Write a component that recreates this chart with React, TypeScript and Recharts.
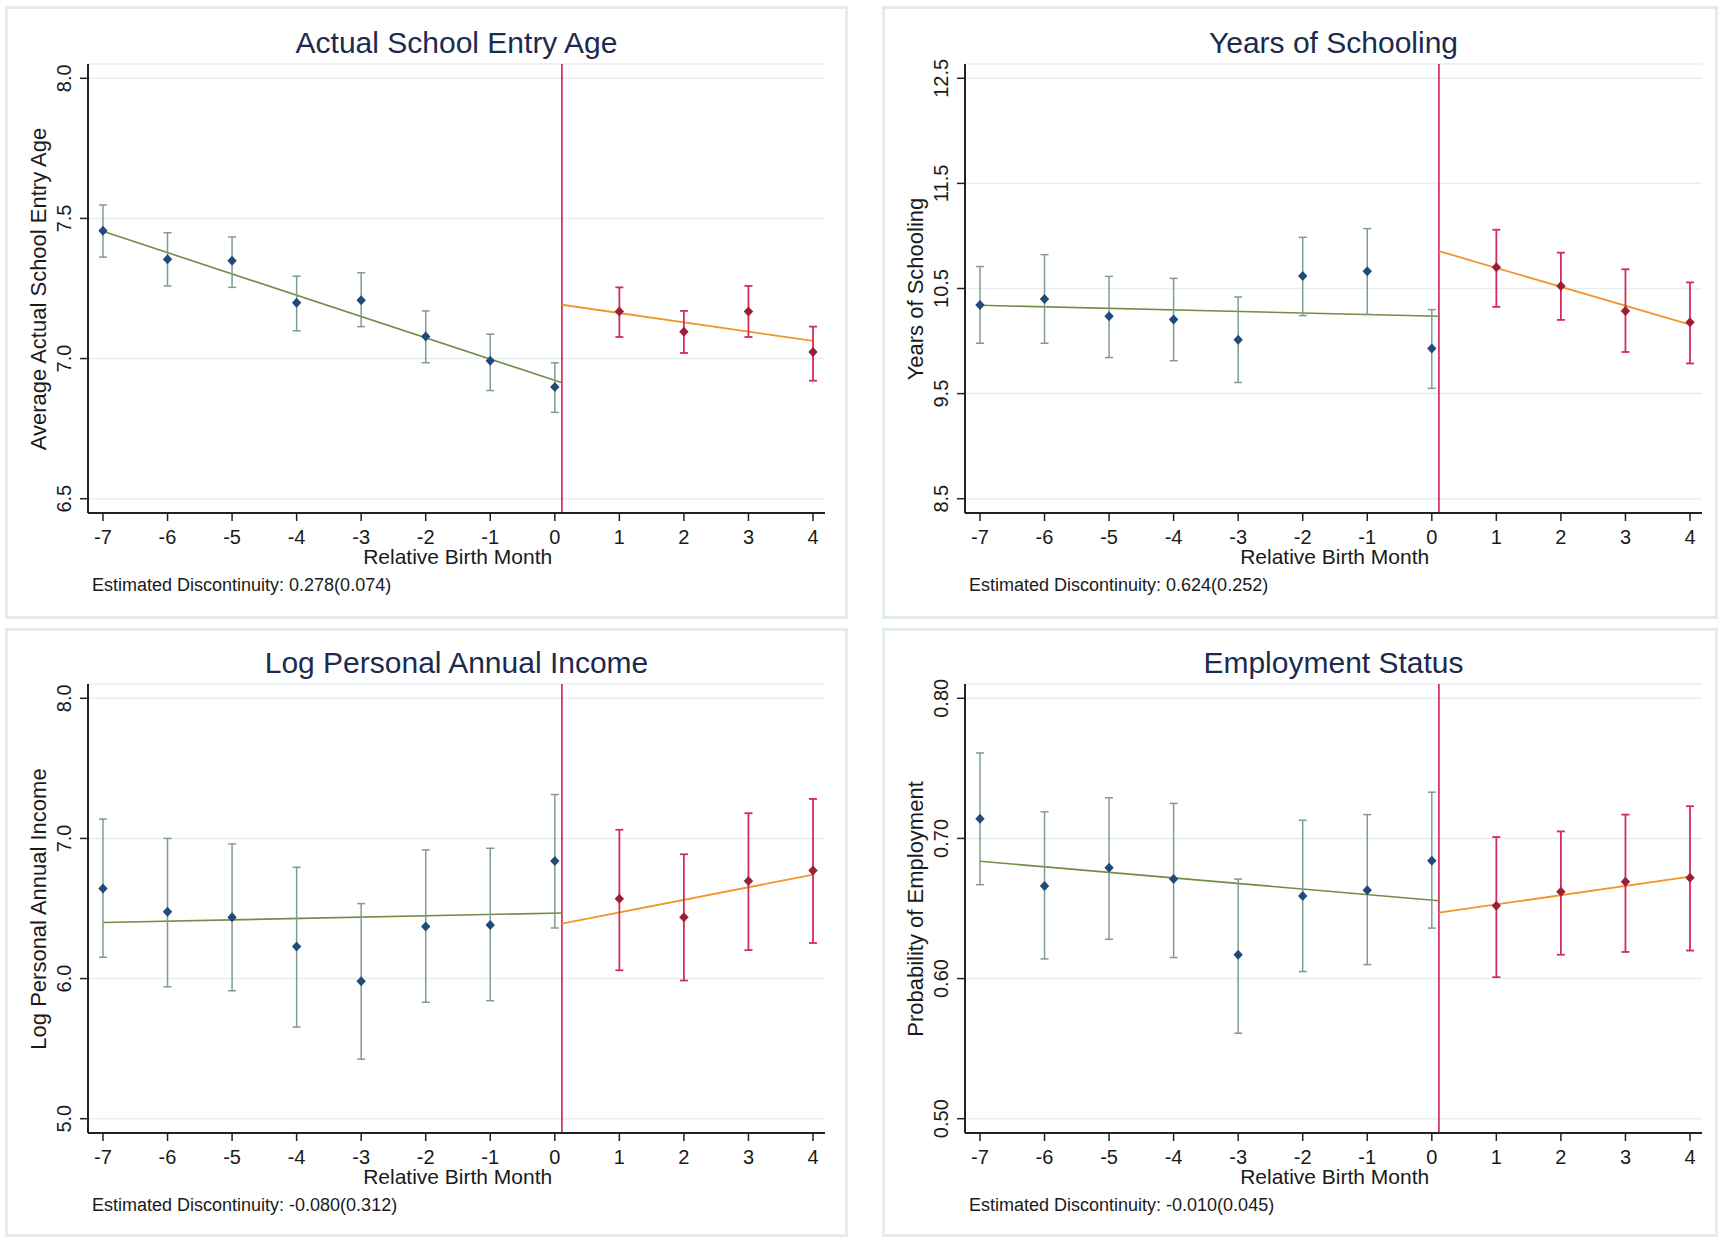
import React from "react";
import {
  CartesianGrid,
  ComposedChart,
  ErrorBar,
  Line,
  ReferenceLine,
  Scatter,
  XAxis,
  YAxis
} from "recharts";

const months = [-7, -6, -5, -4, -3, -2, -1, 0, 1, 2, 3, 4];
const cutoff = 0.11;

// Actual School Entry Age
const entryAgeMean = [7.456, 7.354, 7.349, 7.199, 7.208, 7.079, 6.992, 6.899, 7.168, 7.096, 7.168, 7.023];
const entryAgeLow = [7.362, 7.259, 7.254, 7.099, 7.114, 6.985, 6.886, 6.808, 7.077, 7.02, 7.077, 6.921];
const entryAgeHigh = [7.548, 7.449, 7.434, 7.294, 7.306, 7.17, 7.087, 6.985, 7.254, 7.17, 7.259, 7.114];
const entryAgeFitLeft = [7.454, 6.914];
const entryAgeFitRight = [7.192, 7.063];
const entryAgeTicks = [6.5, 7.0, 7.5, 8.0];
const entryAgeTickLabels = ["6.5", "7.0", "7.5", "8.0"];

// Years of Schooling
const schoolingMean = [10.344, 10.4, 10.235, 10.205, 10.013, 10.619, 10.664, 9.93, 10.701, 10.524, 10.287, 10.178];
const schoolingLow = [9.979, 9.979, 9.843, 9.813, 9.606, 10.242, 10.254, 9.55, 10.325, 10.201, 9.896, 9.787];
const schoolingHigh = [10.709, 10.822, 10.615, 10.596, 10.419, 10.987, 11.07, 10.299, 11.059, 10.841, 10.683, 10.558];
const schoolingFitLeft = [10.34, 10.236];
const schoolingFitRight = [10.856, 10.156];
const schoolingTicks = [8.5, 9.5, 10.5, 11.5, 12.5];
const schoolingTickLabels = ["8.5", "9.5", "10.5", "11.5", "12.5"];

// Log Personal Annual Income
const incomeMean = [6.642, 6.476, 6.437, 6.228, 5.98, 6.372, 6.383, 6.839, 6.569, 6.437, 6.696, 6.772];
const incomeLow = [6.152, 5.941, 5.913, 5.654, 5.425, 5.831, 5.842, 6.361, 6.059, 5.986, 6.203, 6.254];
const incomeHigh = [7.138, 7.0, 6.961, 6.794, 6.535, 6.918, 6.93, 7.313, 7.062, 6.887, 7.18, 7.282];
const incomeFitLeft = [6.4, 6.468];
const incomeFitRight = [6.392, 6.741];
const incomeTicks = [5.0, 6.0, 7.0, 8.0];
const incomeTickLabels = ["5.0", "6.0", "7.0", "8.0"];

// Employment Status
const employMean = [0.714, 0.666, 0.679, 0.671, 0.617, 0.659, 0.663, 0.684, 0.652, 0.662, 0.669, 0.672];
const employLow = [0.667, 0.614, 0.628, 0.615, 0.561, 0.605, 0.61, 0.636, 0.601, 0.617, 0.619, 0.62];
const employHigh = [0.761, 0.719, 0.729, 0.725, 0.671, 0.713, 0.717, 0.733, 0.701, 0.705, 0.717, 0.723];
const employFitLeft = [0.6837, 0.6555];
const employFitRight = [0.647, 0.6727];
const employTicks = [0.5, 0.6, 0.7, 0.8];
const employTickLabels = ["0.50", "0.60", "0.70", "0.80"];

const FONT = '"Liberation Sans", Arial, sans-serif';
const C = {
  leftDot: "#1f4b7a",
  leftCI: "#7f9c8f",
  leftFit: "#6f8f45",
  rightDot: "#9c1f3a",
  rightCI: "#d42c5a",
  rightFit: "#f0962a",
  cut: "#d2204f",
  grid: "#e6eef0",
  border: "#e4ecf0",
  title: "#1c2a4f",
  text: "#1a1a1a"
};

interface PanelCfg {
  title: string;
  yLabel: string;
  note: string;
  mean: number[];
  low: number[];
  high: number[];
  fitLeft: number[];
  fitRight: number[];
  ticks: number[];
  tickLabels: string[];
  left: number;
  top: number;
  width: number;
  boxHeight: number;
}

const panels: PanelCfg[] = [
  {
    title: "Actual School Entry Age",
    yLabel: "Average Actual School Entry Age",
    note: "Estimated Discontinuity: 0.278(0.074)",
    mean: entryAgeMean, low: entryAgeLow, high: entryAgeHigh,
    fitLeft: entryAgeFitLeft, fitRight: entryAgeFitRight,
    ticks: entryAgeTicks, tickLabels: entryAgeTickLabels,
    left: 0, top: 0, width: 843, boxHeight: 613
  },
  {
    title: "Years of Schooling",
    yLabel: "Years of Schooling",
    note: "Estimated Discontinuity: 0.624(0.252)",
    mean: schoolingMean, low: schoolingLow, high: schoolingHigh,
    fitLeft: schoolingFitLeft, fitRight: schoolingFitRight,
    ticks: schoolingTicks, tickLabels: schoolingTickLabels,
    left: 877, top: 0, width: 836, boxHeight: 613
  },
  {
    title: "Log Personal Annual Income",
    yLabel: "Log Personal Annual Income",
    note: "Estimated Discontinuity: -0.080(0.312)",
    mean: incomeMean, low: incomeLow, high: incomeHigh,
    fitLeft: incomeFitLeft, fitRight: incomeFitRight,
    ticks: incomeTicks, tickLabels: incomeTickLabels,
    left: 0, top: 620, width: 843, boxHeight: 609
  },
  {
    title: "Employment Status",
    yLabel: "Probability of Employment",
    note: "Estimated Discontinuity: -0.010(0.045)",
    mean: employMean, low: employLow, high: employHigh,
    fitLeft: employFitLeft, fitRight: employFitRight,
    ticks: employTicks, tickLabels: employTickLabels,
    left: 877, top: 620, width: 836, boxHeight: 609
  }
];

const diamond = (color: string) => (props: any) => {
  const { cx, cy } = props;
  if (cx == null || cy == null) return <g />;
  return (
    <path
      d={`M${cx},${cy - 5}L${cx + 4.7},${cy}L${cx},${cy + 5}L${cx - 4.7},${cy}Z`}
      fill={color}
    />
  );
};

const Panel = ({ cfg }: { cfg: PanelCfg }) => {
  const { left: ox, top: oy } = cfg;
  // Stata-like padding around the outer ticks
  const span = cfg.ticks[cfg.ticks.length - 1] - cfg.ticks[0];
  const m = span * 0.034;
  const domain: [number, number] = [cfg.ticks[0] - m, cfg.ticks[cfg.ticks.length - 1] + m];

  const pts = months.map((x, i) => ({
    x,
    y: cfg.mean[i],
    err: [cfg.mean[i] - cfg.low[i], cfg.high[i] - cfg.mean[i]]
  }));
  const leftPts = pts.filter((p) => p.x <= 0);
  const rightPts = pts.filter((p) => p.x > 0);
  const fitL = [
    { x: months[0], y: cfg.fitLeft[0] },
    { x: cutoff, y: cfg.fitLeft[1] }
  ];
  const fitR = [
    { x: cutoff, y: cfg.fitRight[0] },
    { x: months[months.length - 1], y: cfg.fitRight[1] }
  ];
  const labelOf = (v: number) => {
    const i = cfg.ticks.findIndex((t) => Math.abs(t - v) < 1e-9);
    return i >= 0 ? cfg.tickLabels[i] : String(v);
  };

  const YTick = (props: any) => {
    const { x, y, payload } = props;
    const bx = x - 7;
    return (
      <text
        x={bx}
        y={y}
        transform={`rotate(-90 ${bx} ${y})`}
        textAnchor="middle"
        fontSize={20}
        fontFamily={FONT}
        fill={C.text}
      >
        {labelOf(payload.value)}
      </text>
    );
  };

  return (
    <>
      <div
        style={{
          position: "absolute",
          left: ox + 5,
          top: oy + (oy === 0 ? 6 : 8),
          width: cfg.width,
          height: cfg.boxHeight,
          border: `3px solid ${C.border}`,
          boxSizing: "border-box"
        }}
      />
      <div style={{ position: "absolute", left: ox + 5, top: oy + 6 }}>
        <ComposedChart
          width={cfg.width}
          height={613}
          margin={{ top: 58, right: cfg.width - 820, bottom: 76, left: 0 }}
        >
          <CartesianGrid vertical={false} stroke={C.grid} strokeWidth={1.5} />
          <XAxis
            type="number"
            dataKey="x"
            domain={[-7.232, 4.186]}
            ticks={months}
            allowDataOverflow
            height={30}
            tickSize={8}
            tickMargin={9}
            axisLine={{ stroke: "#222", strokeWidth: 2 }}
            tickLine={{ stroke: "#222", strokeWidth: 1.5 }}
            tick={{ fontSize: 20, fill: C.text, fontFamily: FONT }}
            interval={0}
          />
          <YAxis
            type="number"
            domain={domain}
            ticks={cfg.ticks}
            allowDataOverflow
            width={83}
            tickSize={8}
            axisLine={{ stroke: "#222", strokeWidth: 2 }}
            tickLine={{ stroke: "#222", strokeWidth: 1.5 }}
            tick={<YTick />}
            interval={0}
          />
          <ReferenceLine x={cutoff} stroke={C.cut} strokeWidth={1.6} />
          <Line
            data={fitL}
            dataKey="y"
            type="linear"
            stroke={C.leftFit}
            strokeWidth={1.6}
            dot={false}
            activeDot={false}
            isAnimationActive={false}
          />
          <Line
            data={fitR}
            dataKey="y"
            type="linear"
            stroke={C.rightFit}
            strokeWidth={1.8}
            dot={false}
            activeDot={false}
            isAnimationActive={false}
          />
          <Scatter
            data={leftPts}
            dataKey="y"
            shape={diamond(C.leftDot)}
            isAnimationActive={false}
          >
            <ErrorBar dataKey="err" direction="y" width={4} stroke={C.leftCI} strokeWidth={1.5} />
          </Scatter>
          <Scatter
            data={rightPts}
            dataKey="y"
            shape={diamond(C.rightDot)}
            isAnimationActive={false}
          >
            <ErrorBar dataKey="err" direction="y" width={4} stroke={C.rightCI} strokeWidth={1.8} />
          </Scatter>
        </ComposedChart>
      </div>
      <div
        style={{
          position: "absolute",
          left: ox + 456.5,
          top: oy + 53.3 - 0.846 * 30,
          transform: "translateX(-50%)",
          fontSize: 30,
          lineHeight: 1,
          whiteSpace: "nowrap",
          color: C.title,
          fontFamily: FONT
        }}
      >
        {cfg.title}
      </div>
      <div
        style={{
          position: "absolute",
          left: ox + 39,
          top: oy + 289,
          transform: "translate(-50%, -50%) rotate(-90deg)",
          fontSize: 22,
          lineHeight: 1,
          whiteSpace: "nowrap",
          color: C.text,
          fontFamily: FONT
        }}
      >
        {cfg.yLabel}
      </div>
      <div
        style={{
          position: "absolute",
          left: ox + 457.7,
          top: oy + 564 - 0.846 * 21,
          transform: "translateX(-50%)",
          fontSize: 21,
          lineHeight: 1,
          whiteSpace: "nowrap",
          color: C.text,
          fontFamily: FONT
        }}
      >
        Relative Birth Month
      </div>
      <div
        style={{
          position: "absolute",
          left: ox + 92,
          top: oy + 591 - 0.846 * 18,
          fontSize: 18,
          lineHeight: 1,
          whiteSpace: "nowrap",
          color: C.text,
          fontFamily: FONT
        }}
      >
        {cfg.note}
      </div>
    </>
  );
};

export default function App() {
  return (
    <div
      style={{
        position: "absolute",
        left: 0,
        top: 0,
        width: 1721,
        height: 1237,
        background: "#fff",
        overflow: "hidden"
      }}
    >
      {panels.map((p) => (
        <Panel key={p.title} cfg={p} />
      ))}
    </div>
  );
}
